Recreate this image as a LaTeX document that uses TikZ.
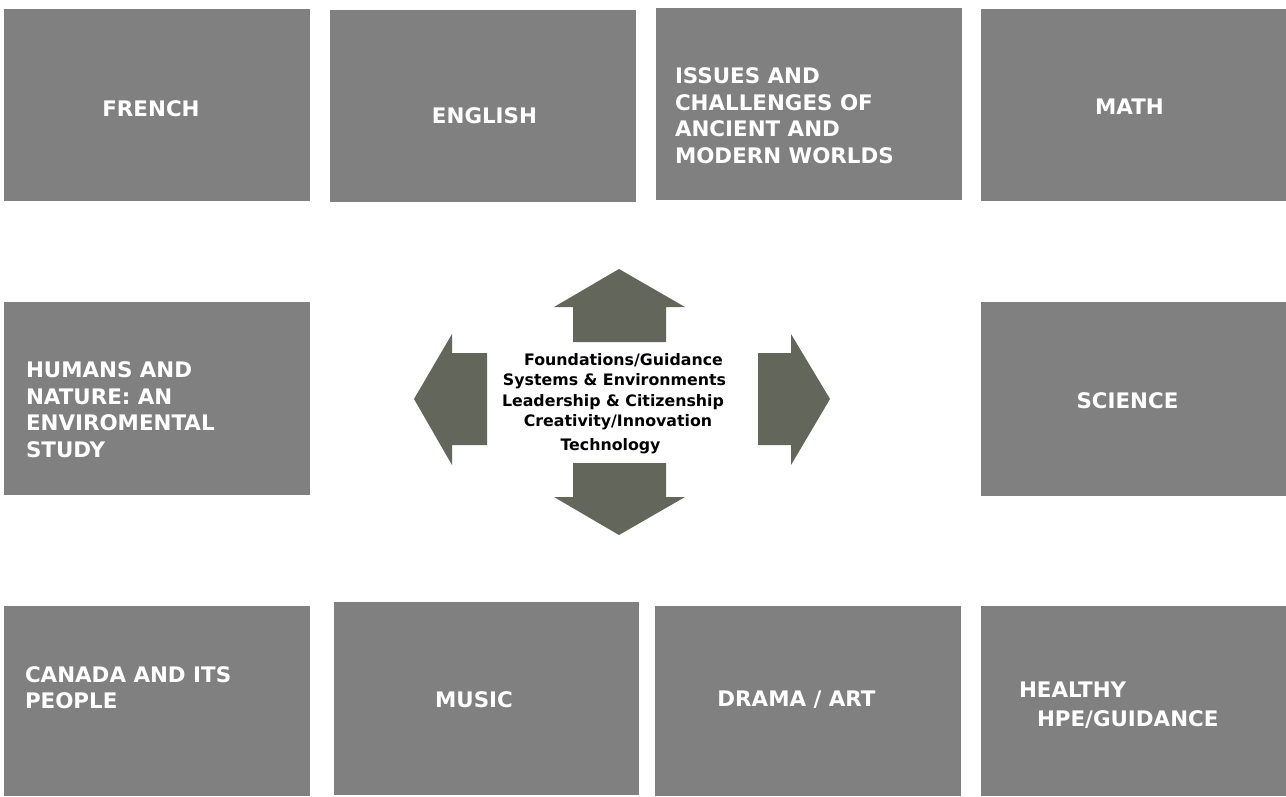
\documentclass[tikz,border=0pt]{standalone}
\usepackage{fontspec}
\setmainfont{DejaVu Sans}
\definecolor{boxgray}{HTML}{808080}
\definecolor{arrowgray}{HTML}{63665A}
\begin{document}
\begin{tikzpicture}[x=1pt,y=-1pt,
  box/.style={fill=boxgray, draw=none, inner sep=0pt, outer sep=0pt, anchor=north west, minimum width=306pt, minimum height=192pt},
  lbl/.style={text=white, font=\fontsize{21.4}{26.5}\selectfont\bfseries, inner sep=0pt, outer sep=0pt},
  ctr/.style={text=black, font=\fontsize{15.8}{20}\selectfont\bfseries, inner sep=0pt, anchor=base},
  arr/.style={fill=arrowgray, draw=none}]
\useasboundingbox (0,0) rectangle (1286,796);

% boxes
\node[box] (french)  at (4,9) {};
\node[box] (english) at (330,9.5) {};
\node[box] (issues)  at (655.5,8) {};
\node[box, minimum width=305pt] (math) at (981,9) {};
\node[box, minimum height=193pt] (humans)  at (4,302) {};
\node[box, minimum width=305pt, minimum height=194pt] (science) at (981,302) {};
\node[box, minimum height=190pt] (canada)  at (4,606) {};
\node[box, minimum width=305pt, minimum height=193pt] (music) at (334,602) {};
\node[box, minimum height=190pt] (drama)   at (655,606) {};
\node[box, minimum width=305pt, minimum height=190pt] (healthy) at (981,606) {};

% labels
\node[lbl, anchor=base] (frenchT)  at (151,116) {FRENCH};
\node[lbl, anchor=base] (englishT) at (484.5,123) {ENGLISH};
\node[lbl, anchor=base west] (issuesT) at (675,83.5)
  {\vtop{\hbox{ISSUES AND}\hbox{CHALLENGES OF}\hbox{ANCIENT AND}\hbox{MODERN WORLDS}}};
\node[lbl, anchor=base] (mathT) at (1129.5,114.5) {MATH};
\node[lbl, anchor=base west] (humansT) at (26,377.5)
  {\vtop{\hbox{HUMANS AND}\hbox{NATURE: AN}\hbox{ENVIROMENTAL}\hbox{STUDY}}};
\node[lbl, anchor=base] (scienceT) at (1127.5,408) {SCIENCE};
\node[lbl, anchor=base west] (canadaT) at (25,682)
  {\vtop{\hbox{CANADA AND ITS}\hbox{PEOPLE}}};
\node[lbl, anchor=base] (musicT) at (474,707) {MUSIC};
\node[lbl, anchor=base] (dramaT) at (796.5,706) {DRAMA / ART};
\node[lbl, anchor=base west] (healthyT) at (1019,697.5)
  {\vtop{\hbox{HEALTHY}\vskip2.5pt\hbox{\hspace*{18pt}HPE/GUIDANCE}}};

% arrows
\fill[arr] (619,269) -- (685,307) -- (666,307) -- (666,342) -- (573,342) -- (573,307) -- (554,307) -- cycle;
\fill[arr] (573,463) -- (666,463) -- (666,497) -- (685,497) -- (619,535) -- (554,497) -- (573,497) -- cycle;
\fill[arr] (414,399) -- (452,334) -- (452,353) -- (487,353) -- (487,445) -- (452,445) -- (452,465) -- cycle;
\fill[arr] (830,399) -- (791,465) -- (791,445) -- (758,445) -- (758,353) -- (791,353) -- (791,334) -- cycle;

% center text
\node[ctr] (c1) at (623.5,365) {Foundations/Guidance};
\node[ctr] (c2) at (614.5,385.3) {Systems \& Environments};
\node[ctr] (c3) at (613,406.7) {Leadership \& Citizenship};
\node[ctr] (c4) at (618,426.7) {Creativity/Innovation};
\node[ctr] (c5) at (610.5,450.7) {Technology};
\end{tikzpicture}
\end{document}
